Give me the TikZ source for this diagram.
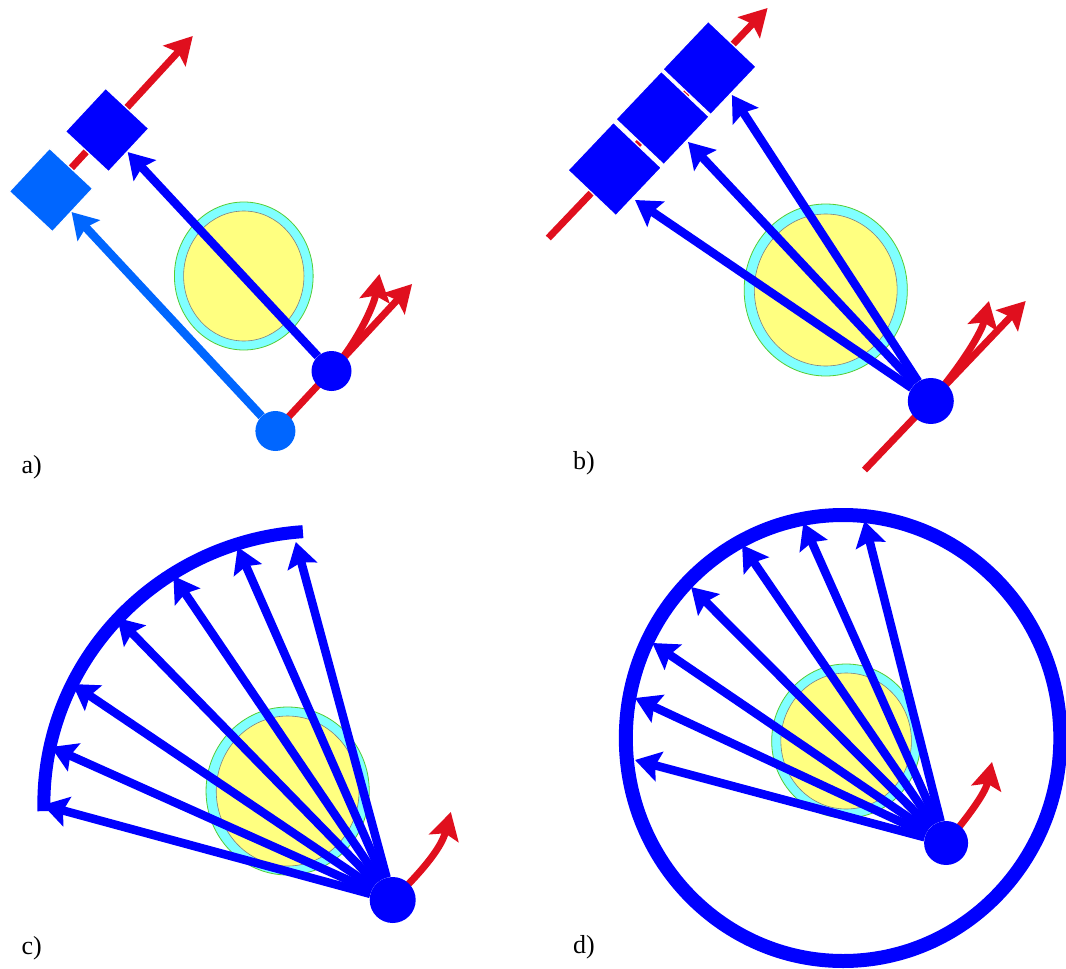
\documentclass[tikz,border=0pt]{standalone}
\usepackage{fontspec}
\setmainfont{Liberation Serif}
\usetikzlibrary{arrows.meta}
\definecolor{dblue}{HTML}{0000FF}
\definecolor{lblue}{HTML}{0066FF}
\definecolor{rred}{HTML}{E00F1E}
\definecolor{ccyan}{HTML}{80FFFF}
\definecolor{cyel}{HTML}{FFFF80}
\definecolor{cgreen}{HTML}{55CC33}
\pgfdeclarelayer{bg}
\pgfsetlayers{bg,main}
\begin{document}
\begin{tikzpicture}[x=1pt,y=-1pt,
 dot/.style={circle,inner sep=0pt,fill=dblue},
 sq/.style={rectangle,inner sep=0pt,fill=dblue,draw=white,line width=1.2pt},
 bluearrow/.style={draw=dblue,line width=8.5pt,-{Stealth[length=25pt,width=30pt,inset=4pt]}},
 redline/.style={draw=rred,line width=7pt},
 redarrow/.style={redline,-{Stealth[length=27pt,width=30pt,inset=5pt]}},
 ring/.style={fill=ccyan,draw=cgreen,line width=0.8pt},
 core/.style={fill=cyel,draw=gray,line width=0.6pt},
 lab/.style={font=\fontsize{26}{30}\selectfont,inner sep=0pt},
 leftpanel/.style={x=1.02pt},
 rightpanel/.style={x=1.02pt,xshift=-10.66pt}
]
\useasboundingbox (0,0) rectangle (1066,969);
\begin{pgfonlayer}{bg}
\fill[white] (0,0) rectangle (1066,969);
\end{pgfonlayer}

% ---------------- panel a ----------------
\begin{scope}[leftpanel]
\node[dot,fill=lblue,minimum size=40pt] (lca) at (270,431) {};
\node[dot,minimum size=40pt] (dca) at (325,371) {};
\node[sq,fill=lblue,minimum size=59pt,rotate=47] (lsqa) at (50,190) {};
\node[sq,minimum size=59pt,rotate=47] (dsqa) at (105,130) {};
\coordinate (ta1) at (189,36);
\coordinate (ta2) at (404,284);
\coordinate (ta3) at (372,274);
\node[lab] (laba) at (31,467) {a)};
\begin{pgfonlayer}{bg}
\path[ring] (239,276) ellipse [x radius=68,y radius=74];
\path[core] (239,276) ellipse [x radius=59,y radius=65];
\draw[redarrow] (lsqa.center) -- (ta1);
\draw[redarrow] (lca.center) -- (ta2);
\draw[redarrow] (dca.center) .. controls (347,347) and (366,308) .. (ta3);
\draw[bluearrow,draw=lblue] (lca) -- (lsqa);
\draw[bluearrow] (dca) -- (dsqa);
\end{pgfonlayer}
\end{scope}

% ---------------- panel b ----------------
\begin{scope}[rightpanel]
\node[dot,minimum size=46pt] (cb) at (923,401) {};
\node[sq,minimum size=66pt,rotate=46.5] (sb1) at (613,169) {};
\node[sq,minimum size=66pt,rotate=46.5] (sb2) at (660,118) {};
\node[sq,minimum size=66pt,rotate=46.5] (sb3) at (706,68) {};
\coordinate (bs) at (858,470);
\coordinate (bt) at (548,238);
\coordinate (tb1) at (763,8);
\coordinate (tb2) at (1016,301);
\coordinate (tb3) at (980,301);
\coordinate (ab1) at (633,200);
\coordinate (ab2) at (685,142);
\coordinate (ab3) at (728,95);
\node[lab] (labb) at (583,463) {b)};
\begin{pgfonlayer}{bg}
\path[ring] (820,290) ellipse [x radius=80,y radius=86];
\path[core] (820,290) ellipse [x radius=70,y radius=76];
\draw[redarrow] (bt) -- (tb1);
\draw[redarrow] (bs) -- (tb2);
\draw[redarrow] (cb.center) .. controls (948,372) and (972,335) .. (tb3);
\draw[bluearrow] (cb) -- (ab1);
\draw[bluearrow] (cb) -- (ab2);
\draw[bluearrow] (cb) -- (ab3);
\end{pgfonlayer}
\end{scope}

% ---------------- panel c ----------------
\begin{scope}[leftpanel]
\node[dot,minimum size=46pt] (cc) at (385,900) {};
\coordinate (tc) at (442,812);
\coordinate (ac1) at (42,805);
\coordinate (ac2) at (50,747);
\coordinate (ac3) at (71,684);
\coordinate (ac4) at (115,618);
\coordinate (ac5) at (170,576);
\coordinate (ac6) at (233,547);
\coordinate (ac7) at (290,542);
\node[lab] (labc) at (31,948) {c)};
\begin{pgfonlayer}{bg}
\path[ring] (282,791) ellipse [x radius=80,y radius=84];
\path[core] (282,791) ellipse [x radius=70,y radius=75];
\draw[dblue,line width=13pt] ([shift={(178.5:273)}]316,804) arc[start angle=178.5,end angle=266,radius=273];
\draw[redarrow] (cc.center) .. controls (410,875) and (432,850) .. (tc);
\foreach \i in {1,...,7} {\draw[bluearrow] (cc) -- (ac\i);}
\end{pgfonlayer}
\end{scope}

% ---------------- panel d ----------------
\begin{scope}[rightpanel]
\node[dot,minimum size=44pt] (cd) at (938,843) {};
\coordinate (td) at (983,762);
\coordinate (ad1) at (633,760);
\coordinate (ad2) at (633,698);
\coordinate (ad3) at (650,643);
\coordinate (ad4) at (688,587);
\coordinate (ad5) at (738,545);
\coordinate (ad6) at (798,523);
\coordinate (ad7) at (858,521);
\node[lab] (labd) at (583,947) {d)};
\begin{pgfonlayer}{bg}
\path[ring] (840,741) ellipse [x radius=73,y radius=77];
\path[core] (840,741) ellipse [x radius=64,y radius=68];
\draw[dblue,line width=14pt] (837,738) ellipse [x radius=213,y radius=223];
\draw[redarrow] (cd.center) .. controls (955,822) and (976,795) .. (td);
\foreach \i in {1,...,7} {\draw[bluearrow] (cd) -- (ad\i);}
\end{pgfonlayer}
\end{scope}
\end{tikzpicture}
\end{document}
